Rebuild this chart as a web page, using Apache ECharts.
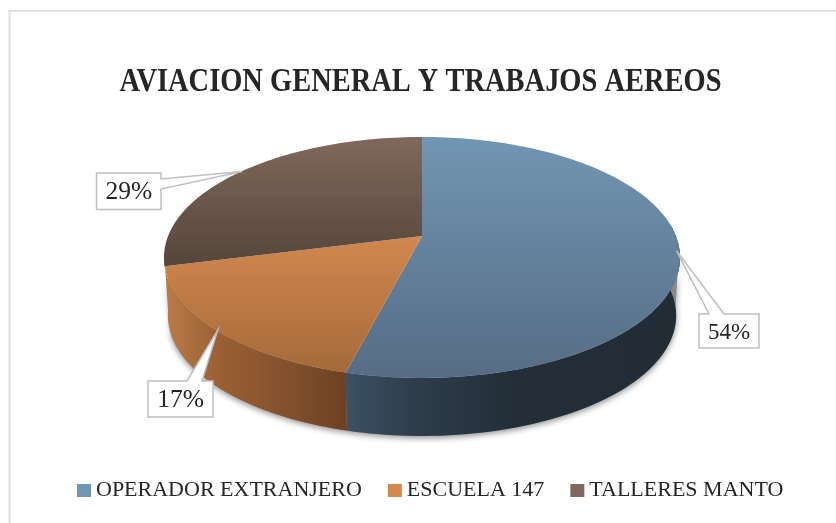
<!DOCTYPE html>
<html>
<head>
<meta charset="utf-8">
<style>html,body{margin:0;padding:0;background:#fff}#c{width:836px;height:523px}</style>
<script src="https://cdn.jsdelivr.net/npm/echarts@6/dist/echarts.min.js"></script>
</head>
<body>
<div id="c"></div>
<script>
const titleText = 'AVIACION GENERAL Y TRABAJOS AEREOS';
const categories = ['OPERADOR EXTRANJERO', 'ESCUELA 147', 'TALLERES MANTO'];
const shares = [54, 17, 29];

// --- layout / style, separate from the data ---
const FONT = '"Liberation Serif", serif';
const INK = '#262626';
const C = {x: 422, y: 236, a: 116.7, b: 253.9, k: -0.178, depth: 58, shrink: 0.985};
const FRONT_START = 84, FRONT_END = 262;
function grad(horizontal, a, b, stops) {
  const list = stops.map(c => ({offset: c[0], color: c[1]}));
  return horizontal ? new echarts.graphic.LinearGradient(a, 0, b, 0, list, true)
                    : new echarts.graphic.LinearGradient(0, a, 0, b, list, true);
}
const topFill = [
  grad(false, 137, 378, [[0, '#7196b3'], [1, '#566c84']]),
  grad(false, 236, 372, [[0, '#d2884f'], [1, '#a56a3a']]),
  grad(false, 137, 266, [[0, '#80695c'], [1, '#55453a']])
];
const sideFill = [
  grad(true, 343, 680, [[0, '#3c5265'], [0.2, '#2f3e4c'], [0.5, '#232e38'], [1, '#222c35']]),
  grad(true, 165, 345, [[0, '#bb7c47'], [0.3, '#9a6033'], [0.65, '#85522e'], [1, '#6c4122']]),
  grad(true, 160, 175, [[0, '#5a483c'], [1, '#55453a']])
];
const legendFill = [
  grad(false, 484, 497, [[0, '#7196b3'], [1, '#566c84']]),
  grad(false, 484, 497, [[0, '#d2884f'], [1, '#a56a3a']]),
  grad(false, 484, 497, [[0, '#80695c'], [1, '#55453a']])
];
// callout boxes: [left, top, right, bottom], the pointer's base on the box edge, text size
const boxes = [
  {r: [699, 314, 759, 348], base: [[709, 314], [724, 314]], size: 23},
  {r: [148, 381, 213, 417], base: [[187, 381], [202, 381]], size: 25.5},
  {r: [96.5, 173, 161, 209.5], base: [[161, 179], [161, 189]], size: 25.5}
];

const total = shares.reduce((s, v) => s + v, 0);
function rim(deg, lower) {
  const t = deg * Math.PI / 180, u = Math.sin(t), v = -Math.cos(t), d = 1 + C.k * v;
  const x = C.b * u / d, y = C.a * v / d;
  return lower ? [C.x + x * C.shrink, C.y + y + C.depth] : [C.x + x, C.y + y];
}
function arc(from, to, lower) {
  const pts = [], n = Math.max(2, Math.ceil((to - from) / 1.5));
  for (let i = 0; i <= n; i++) pts.push(rim(from + (to - from) * i / n, lower));
  return pts;
}
function renderSlice(index) {
  const before = shares.slice(0, index).reduce((s, v) => s + v, 0);
  const a0 = before / total * 360, a1 = (before + shares[index]) / total * 360;
  const mid = (a0 + a1) / 2, children = [];
  // the last front wall runs on to the silhouette, a sliver after it stays hidden
  const f0 = Math.max(a0, FRONT_START);
  const f1 = FRONT_END - a1 < 10 ? FRONT_END : a1;
  if (FRONT_END - f0 >= 10 && f1 > f0) {
    children.push({type: 'polygon', silent: true,
      shape: {points: arc(f0, f1, false).concat(arc(f0, f1, true).reverse())},
      style: {fill: sideFill[index]}});
  }
  children.push({type: 'polygon', silent: true,
    shape: {points: [[C.x, C.y]].concat(arc(a0, a1, false))},
    style: {fill: topFill[index]}});
  const tip = rim(mid, false).map((c, i) => c + (i === 0 ? (c < C.x ? 1 : -3) : 0));
  const b = boxes[index], [l, t, r, bt] = b.r;
  const outline = [[l, t]];
  if (b.base[0][1] === t && b.base[1][1] === t) {
    outline.push(b.base[0], tip, b.base[1], [r, t], [r, bt], [l, bt]);
  } else {
    outline.push([r, t], b.base[0], tip, b.base[1], [r, bt], [l, bt]);
  }
  children.push({type: 'polygon', silent: true, z2: 10, shape: {points: outline},
    style: {fill: '#fff', stroke: '#bfbfbf', lineWidth: 1.5}});
  children.push({type: 'text', silent: true, z2: 11,
    style: {x: (l + r) / 2, y: (t + bt) / 2 + 1.5, text: shares[index] + '%', fill: INK,
      font: b.size + 'px ' + FONT, align: 'center', verticalAlign: 'middle'}});
  return {type: 'group', children};
}
function renderShadow() {
  return {type: 'polygon', silent: true, shape: {points: arc(96, 250, true).concat(arc(96, 250, false).reverse())},
    style: {fill: '#888', shadowBlur: 6, shadowColor: 'rgba(0,0,0,0.45)', shadowOffsetY: 2}};
}

const chart = echarts.init(document.getElementById('c'), null, {renderer: 'canvas'});
chart.setOption({
  animation: false,
  backgroundColor: '#fff',
  legend: {left: 77, top: 479.5, padding: 0, itemWidth: 14, itemHeight: 13, itemGap: 26, selectedMode: false,
    icon: 'rect', textStyle: {fontFamily: FONT, fontSize: 22, color: INK},
    data: categories.map((name, i) => ({name, itemStyle: {color: legendFill[i]}}))},
  graphic: [
    {type: 'rect', silent: true, shape: {x: 8.5, y: 10, width: 2, height: 513}, style: {fill: '#e0e0e0'}},
    {type: 'rect', silent: true, shape: {x: 8.5, y: 10, width: 828, height: 2}, style: {fill: '#e0e0e0'}},
    {type: 'text', silent: true, x: 420.5, y: 82, scaleX: 0.837,
      style: {text: titleText, fill: INK, font: 'bold 34px ' + FONT, align: 'center', verticalAlign: 'middle'}}
  ],
  series: [
    {type: 'custom', name: '_shadow', coordinateSystem: 'none', data: [1], renderItem: renderShadow, silent: true}
  ].concat(categories.map((name, i) => ({
    type: 'custom', name, coordinateSystem: 'none', silent: true, clip: false,
    data: [{name, value: shares[i]}],
    itemStyle: {color: legendFill[i]},
    renderItem: () => renderSlice(i)
  })))
});
</script>
</body>
</html>
